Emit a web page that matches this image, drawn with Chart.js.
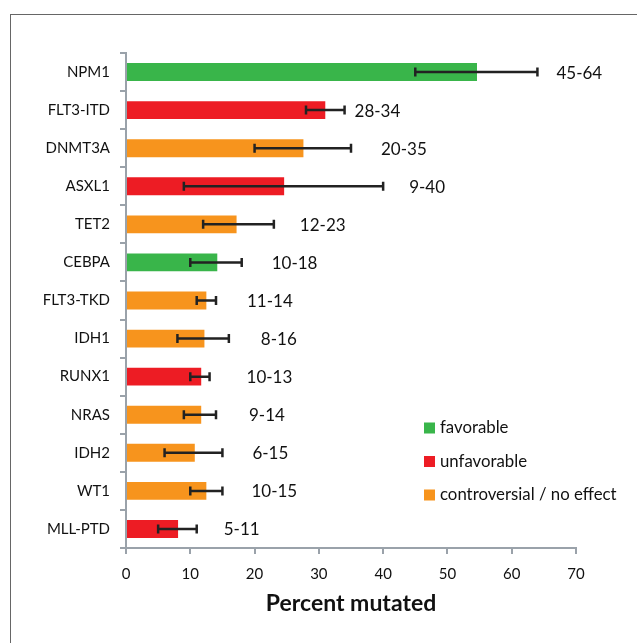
<!DOCTYPE html>
<html>
<head>
<meta charset="utf-8">
<script src="https://cdn.jsdelivr.net/npm/chart.js@4.4.1/dist/chart.umd.min.js"></script>
<style>
  html, body { margin: 0; padding: 0; background: #fff; overflow: hidden; }
  #frame { position: absolute; left: 10px; top: 14px; width: 700px; height: 700px; border: 1px solid #666; }
  #wrap { position: absolute; left: 0; top: 0; width: 637px; height: 643px; }
</style>
</head>
<body>
<div id="frame"></div>
<div id="wrap"><canvas id="myChart"></canvas></div>
<script>
// data
const genes = ['NPM1', 'FLT3-ITD', 'DNMT3A', 'ASXL1', 'TET2', 'CEBPA', 'FLT3-TKD', 'IDH1', 'RUNX1', 'NRAS', 'IDH2', 'WT1', 'MLL-PTD'];
const percentMutated = [54.6, 31, 27.6, 24.6, 17.2, 14.2, 12.5, 12.2, 11.7, 11.7, 10.7, 12.5, 8.1];
const rangeLow = [45, 28, 20, 9, 12, 10, 11, 8, 10, 9, 6, 10, 5];
const rangeHigh = [64, 34, 35, 40, 23, 18, 14, 16, 13, 14, 15, 15, 11];
const prognosis = ['favorable', 'unfavorable', 'controversial / no effect', 'unfavorable', 'controversial / no effect',
  'favorable', 'controversial / no effect', 'controversial / no effect', 'unfavorable', 'controversial / no effect',
  'controversial / no effect', 'controversial / no effect', 'unfavorable'];
const groups = ['favorable', 'unfavorable', 'controversial / no effect'];
const xTicks = [0, 10, 20, 30, 40, 50, 60, 70];

// styling
const groupColors = { 'favorable': '#39b54a', 'unfavorable': '#ed1c24', 'controversial / no effect': '#f7941d' };
const axisColor = '#9aa2aa';
const fontFamily = 'Lato, "Open Sans", sans-serif';
// gap (px) between the end of each error bar and its range text
const labelGap = [19, 10, 30, 26, 26, 30, 31, 32, 37, 33, 30, 29, 27];

// draws the whiskers and the "lo-hi" text next to them
const errorBars = {
  id: 'errorBars',
  afterDatasetsDraw(chart) {
    const ctx = chart.ctx;
    const xs = chart.scales.x, ys = chart.scales.y;
    ctx.save();
    ctx.strokeStyle = '#222';
    ctx.lineWidth = 2.5;
    genes.forEach((g, i) => {
      const yc = ys.getPixelForValue(i);
      const x1 = xs.getPixelForValue(rangeLow[i]);
      const x2 = xs.getPixelForValue(rangeHigh[i]);
      ctx.beginPath();
      ctx.moveTo(x1, yc); ctx.lineTo(x2, yc);
      ctx.moveTo(x1, yc - 4.5); ctx.lineTo(x1, yc + 4.5);
      ctx.moveTo(x2, yc - 4.5); ctx.lineTo(x2, yc + 4.5);
      ctx.stroke();
      ctx.fillStyle = '#111';
      ctx.font = '17px ' + fontFamily;
      ctx.textBaseline = 'middle';
      ctx.textAlign = 'left';
      ctx.fillText(rangeLow[i] + '-' + rangeHigh[i], x2 + labelGap[i], yc + 1);
    });
    ctx.restore();
  }
};

// legend sits inside the plot, lower right
const boxLegend = {
  id: 'boxLegend',
  afterDraw(chart) {
    const ctx = chart.ctx;
    ctx.save();
    ctx.font = '16.8px ' + fontFamily;
    ctx.textBaseline = 'middle';
    groups.forEach((g, i) => {
      const y = 428 + i * 33.5;
      ctx.fillStyle = groupColors[g];
      ctx.fillRect(424, y - 5.5, 11, 11);
      ctx.fillStyle = '#111';
      ctx.fillText(g, 440, y);
    });
    ctx.restore();
  }
};

new Chart(document.getElementById('myChart'), {
  type: 'bar',
  data: {
    labels: genes,
    datasets: [{
      data: percentMutated,
      backgroundColor: prognosis.map(p => groupColors[p]),
      borderWidth: 0,
      categoryPercentage: 1,
      barPercentage: 0.47
    }]
  },
  options: {
    indexAxis: 'y',
    responsive: true,
    maintainAspectRatio: false,
    animation: false,
    layout: { padding: { top: 53, right: 61, left: 0, bottom: 0 } },
    plugins: { legend: { display: false }, tooltip: { enabled: false } },
    scales: {
      x: {
        min: 0, max: 70,
        afterBuildTicks(scale) { scale.ticks = xTicks.map(v => ({ value: v })); },
        afterFit(scale) { scale.height = 95; },
        grid: { drawOnChartArea: false, drawTicks: true, tickLength: 6, color: axisColor, lineWidth: 2 },
        border: { color: axisColor, width: 2 },
        ticks: { color: '#111', font: { family: fontFamily, size: 15 }, padding: 11 },
        title: {
          display: true, text: 'Percent mutated', color: '#111',
          font: { family: fontFamily, size: 23, weight: 'bold' },
          padding: { top: 0, bottom: 26 }
        }
      },
      y: {
        afterFit(scale) { scale.width = 126; },
        grid: { drawOnChartArea: false, drawTicks: true, tickLength: 6, color: axisColor, lineWidth: 2, offset: true },
        border: { color: axisColor, width: 2 },
        ticks: { color: '#111', font: { family: fontFamily, size: 15 }, padding: 10 }
      }
    }
  },
  plugins: [errorBars, boxLegend]
});
</script>
</body>
</html>
